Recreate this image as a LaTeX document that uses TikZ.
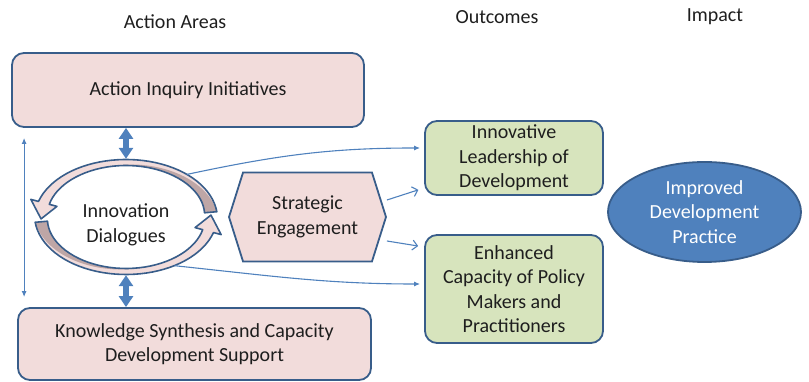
\documentclass[tikz,border=0pt]{standalone}
\usepackage{fontspec}
\setmainfont{Carlito}
\usetikzlibrary{shapes.geometric, shapes.symbols, arrows.meta, positioning}
\definecolor{boxpink}{HTML}{F2DCDB}
\definecolor{boxgreen}{HTML}{D7E4BD}
\definecolor{edgeblue}{HTML}{385D8A}
\definecolor{arrowblue}{HTML}{4F81BD}
\definecolor{bandgrey}{HTML}{BEA6A6}
\definecolor{textgrey}{HTML}{1E1E1E}
\newcommand{\diagfont}{\fontsize{20}{24.5}\selectfont}

\begin{document}
\begin{tikzpicture}[x=1pt, y=1pt,
  area/.style={rectangle, rounded corners=12pt, draw=edgeblue, line width=1.8pt,
               fill=boxpink, align=center, font=\diagfont, text=textgrey},
  outcome/.style={area, fill=boxgreen, minimum width=178pt},
  title/.style={font=\diagfont, text=textgrey},
  thinarr/.style={draw=arrowblue, line width=1.1pt, -{Latex[length=6pt,width=5pt]}},
  openarr/.style={draw=arrowblue, line width=1.1pt, -{Straight Barb[length=5pt,width=10pt]}},
  boldarr/.style={draw=arrowblue, line width=6pt,
                  {Triangle[length=11pt,width=14pt]}-{Triangle[length=11pt,width=14pt]}}
]
  \useasboundingbox (0,0) rectangle (809,382);

  % column titles
  \node[title] (tact) at (175,360) {Action Areas};
  \node[title] (tout) at (497,365) {Outcomes};
  \node[title] (timp) at (715,365) {Impact};

  % action areas
  \node[area, minimum width=352pt, minimum height=74pt] (aii) at (188,292) {Action Inquiry Initiatives};
  \node[area, minimum width=353pt, minimum height=72pt] (ksc) at (194.5,38)
    {Knowledge Synthesis and Capacity\\Development Support};
  \node[ellipse, minimum width=178pt, minimum height=116pt] (dlg) at (126,165) {};
  \node[title, align=center] (dlgtext) at ([yshift=-8pt]dlg.center) {Innovation\\Dialogues};
  \node[signal, signal to=west and east, signal pointer angle=145, draw=edgeblue,
        line width=1.8pt, fill=boxpink, minimum width=157pt, minimum height=89pt,
        align=center, font=\diagfont, text=textgrey] (sge) at (307.5,165) {Strategic\\Engagement};

  % outcomes and impact
  \node[outcome, minimum height=74pt] (ild) at (514,224) {Innovative\\Leadership of\\Development};
  \node[outcome, minimum height=108pt] (ecp) at (514,93)
    {Enhanced\\Capacity of Policy\\Makers and\\Practitioners};
  \node[ellipse, draw=edgeblue, line width=1.8pt, fill=arrowblue, minimum width=193pt,
        minimum height=100pt, align=center, font=\diagfont, text=white] (imp) at (704.5,170)
    {Improved\\Development\\Practice};

  % circular arrows round the dialogues
  \foreach \o in {0,180} {
    \fill[boxpink]
      plot[domain=\o+5:\o+165, samples=40] ({126+(91.5-3.5*sin(\x-\o))*cos(\x)}, {165+(61-3.5*sin(\x-\o))*sin(\x)})
      -- ({126+98.5*cos(\o+165)}, {165+68*sin(\o+165)})
      -- ({126+85*cos(\o+182)}, {165+54.5*sin(\o+182)})
      -- ({126+71.5*cos(\o+165)}, {165+41*sin(\o+165)})
      -- plot[domain=\o+165:\o+5, samples=40] ({126+(78.5+3.5*sin(\x-\o))*cos(\x)}, {165+(48+3.5*sin(\x-\o))*sin(\x)})
      -- cycle;
    \fill[bandgrey]
      plot[domain=\o+5:\o+105, samples=30] ({126+(85+(6.5-3.5*sin(\x-\o))*(1-2*(\x-\o-5)/100))*cos(\x)}, {165+(54.5+(6.5-3.5*sin(\x-\o))*(1-2*(\x-\o-5)/100))*sin(\x)})
      -- plot[domain=\o+105:\o+5, samples=30] ({126+(78.5+3.5*sin(\x-\o))*cos(\x)}, {165+(48+3.5*sin(\x-\o))*sin(\x)})
      -- cycle;
    \draw[edgeblue, line width=1.6pt, line join=round]
      plot[domain=\o+5:\o+165, samples=40] ({126+(91.5-3.5*sin(\x-\o))*cos(\x)}, {165+(61-3.5*sin(\x-\o))*sin(\x)})
      -- ({126+98.5*cos(\o+165)}, {165+68*sin(\o+165)})
      -- ({126+85*cos(\o+182)}, {165+54.5*sin(\o+182)})
      -- ({126+71.5*cos(\o+165)}, {165+41*sin(\o+165)})
      -- plot[domain=\o+165:\o+5, samples=40] ({126+(78.5+3.5*sin(\x-\o))*cos(\x)}, {165+(48+3.5*sin(\x-\o))*sin(\x)})
      -- cycle;
  }

  % connectors
  \draw[boldarr] (dlg.north |- aii.south) -- (dlg.north);
  \draw[boldarr] (dlg.south) -- (dlg.south |- ksc.north);
  \draw[thinarr, {Latex[length=6pt,width=5pt]}-{Latex[length=6pt,width=5pt]}]
    ([xshift=13pt,yshift=-10pt]aii.south west) -- ([xshift=7pt,yshift=10pt]ksc.north west);
  \draw[thinarr, shorten >=4pt] (dlg.35) to[out=12, in=180] ([yshift=10pt]ild.west);
  \draw[openarr, shorten >=6pt] ([yshift=17pt]sge.east) -- ([yshift=-30pt]ild.west);
  \draw[openarr, shorten >=6pt] ([yshift=-24pt]sge.east) -- ([yshift=42pt]ecp.west);
  \draw[thinarr, shorten >=4pt] (dlg.-45) to[out=-6, in=180] ([yshift=5pt]ecp.west);
\end{tikzpicture}
\end{document}
